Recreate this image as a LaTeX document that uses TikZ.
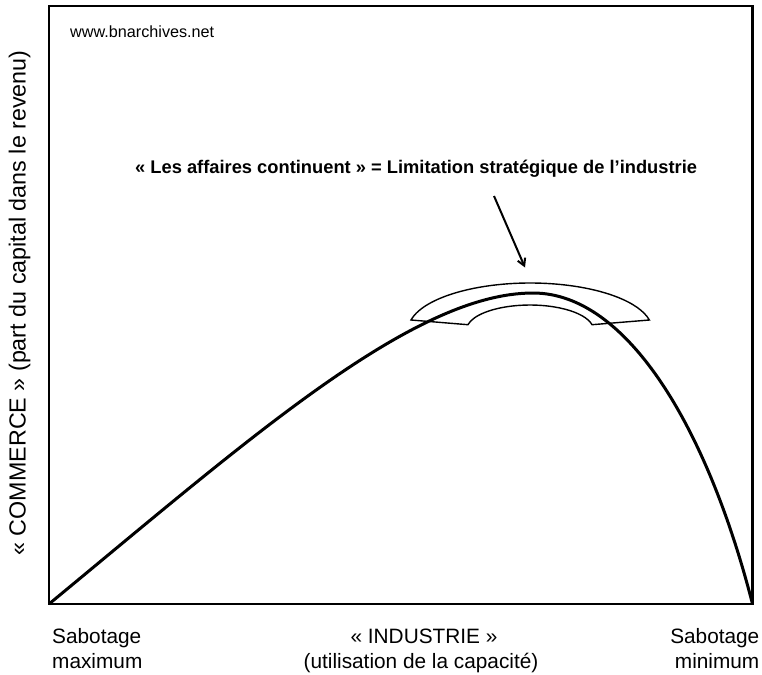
\documentclass[tikz,border=0pt]{standalone}
\usepackage{fontspec}
\setmainfont{Liberation Sans}
\usetikzlibrary{arrows.meta}
\begin{document}
\begin{tikzpicture}[x=1pt,y=-1pt,
  frame/.style={line width=2.2pt},
  curve/.style={line width=3pt, line join=round},
  band/.style={line width=1.4pt, line join=miter},
  pointer/.style={line width=2pt, -{Straight Barb[length=7pt,width=8pt]}},
  lab/.style={inner sep=0pt, font=\fontsize{20.8}{25}\selectfont},
]
\useasboundingbox (0,0) rectangle (762,674);
\draw[frame] (49,6) rectangle (752.5,604);
% block arc
\draw[band] (411,320) arc[start angle=167.7,end angle=12.3,x radius=122pt,y radius=47pt]
  -- (592,324.7) arc[start angle=12.3,end angle=167.7,x radius=63.5pt,y radius=25pt] -- cycle;
% main curve
\draw[curve] (49,604) .. controls (249,439) and (413,293) .. (533,293)
  .. controls (628,293) and (708,430) .. (752.5,604);
% arrow
\coordinate (atail) at (494,196);
\coordinate (ahead) at (525,267.5);
\draw[pointer] (atail) -- (ahead);
% texts
\node[anchor=base west, inner sep=0pt, font=\fontsize{16.2}{19}\selectfont] (web) at (70,37.5) {www.bnarchives.net};
\node[anchor=base west, inner sep=0pt, font=\bfseries\fontsize{18.3}{22}\selectfont] (title) at (135,173.5) {« Les affaires continuent » = Limitation stratégique de l’industrie};
\node[rotate=90, anchor=base, inner sep=0pt, font=\fontsize{23.3}{27}\selectfont] (ylab) at (25.5,303) {« COMMERCE » (part du capital dans le revenu)};
\node[lab, anchor=base west] (smax1) at (52,643) {Sabotage};
\node[lab, anchor=base west] (smax2) at (52,668) {maximum};
\node[lab, anchor=base] (ind1) at (424,643) {« INDUSTRIE »};
\node[lab, anchor=base] (ind2) at (421,668) {(utilisation de la capacité)};
\node[lab, anchor=base east] (smin1) at (759.5,643) {Sabotage};
\node[lab, anchor=base east] (smin2) at (759.5,668) {minimum};
\end{tikzpicture}
\end{document}
